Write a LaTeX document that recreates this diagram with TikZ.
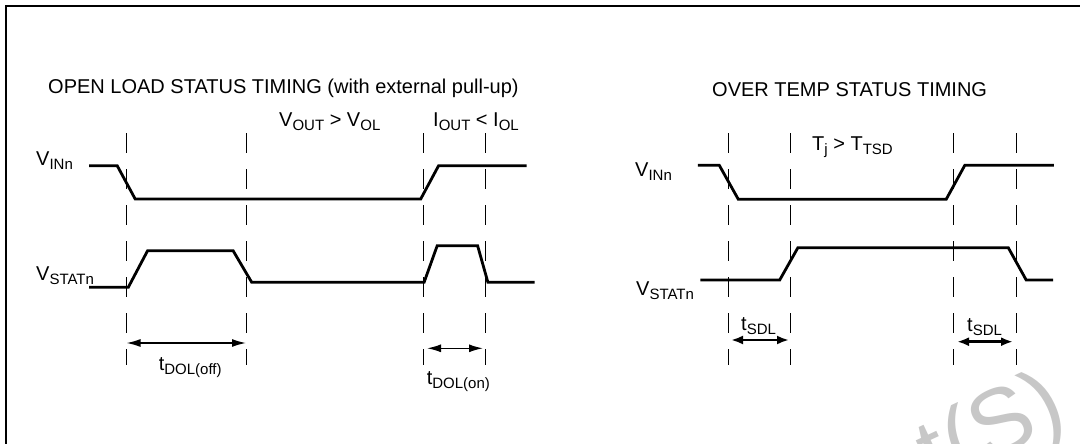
\documentclass[tikz,border=0pt]{standalone}
\usepackage{fontspec}
\setmainfont{Liberation Sans}
\usetikzlibrary{arrows.meta}
\newcommand{\mysub}[1]{\raisebox{-4pt}{\fontsize{15}{15}\selectfont #1}}
\begin{document}
\begin{tikzpicture}[x=1pt,y=-1pt,
  sig/.style={line width=2.8pt, line join=miter},
  guide/.style={line width=1pt, dash pattern=on 20pt off 16pt},
  lbl/.style={anchor=base west, inner sep=0pt, font=\fontsize{20}{24}\selectfont},
  dimthin/.style={line width=1.5pt, {Latex[length=14pt,width=8pt]}-{Latex[length=14pt,width=8pt]}},
  dimthick/.style={line width=2.5pt, {Latex[length=12pt,width=9pt]}-{Latex[length=12pt,width=9pt]}},
  frame/.style={line width=2.3pt},
  wmark/.style={text=black!22, inner sep=0pt, font=\fontsize{92}{92}\selectfont}
]
\useasboundingbox (0,0) rectangle (1080,444);
\clip (0,0) rectangle (1080,444);

% watermark
\node[wmark, rotate=25] (wm) at (993,433) {t(S)};

% frame
\coordinate (fb) at (6,460);
\coordinate (ftl) at (6,6);
\coordinate (fr) at (1090,6);
\draw[frame] (fb) -- (ftl) -- (fr);

% titles
\node[lbl] (titleL) at (48,94) {OPEN LOAD STATUS TIMING (with external pull-up)};
\node[lbl] (titleR) at (712,96) {OVER TEMP STATUS TIMING};

% ---------- left diagram ----------
\foreach \n/\x in {a/126,b/246.5,c/423.5,d/485.5}{
  \coordinate (L\n t) at (\x,133);
  \coordinate (L\n b) at (\x,365);
  \draw[guide] (L\n t) -- (L\n b);
}
\node[lbl] (vinL) at (36,165) {V\mysub{INn}};
\node[lbl] (vstL) at (36,280) {V\mysub{STATn}};
\node[lbl] (voutL) at (279,127) {V\mysub{OUT} > V\mysub{OL}};
\node[lbl] (ioutL) at (433,127) {I\mysub{OUT} < I\mysub{OL}};

\draw[sig] (89,165.7) -- (117.2,165.7) -- (135.2,199) -- (420.7,199) -- (438.6,165.7) -- (526.6,165.7);
\draw[sig] (89,287.3) -- (128.3,287.3) -- (147.6,250.7) -- (233.1,250.7) -- (251.7,282.3) -- (424.1,282.3)
  -- (437.2,245.7) -- (477.6,245.7) -- (487.9,282.3) -- (534.5,282.3);

\coordinate (offA) at (126.5,343);
\coordinate (offB) at (246,343);
\draw[dimthin] (offA) -- (offB);
\node[lbl] (tdoff) at (158.6,370) {t\mysub{DOL(off)}};

\coordinate (onA) at (427,348.3);
\coordinate (onB) at (483,348.3);
\draw[dimthin] (onA) -- (onB);
\node[lbl] (tdon) at (426.6,384) {t\mysub{DOL(on)}};

% ---------- right diagram ----------
\foreach \n/\x in {a/728.6,b/790.7,c/953.8,d/1016}{
  \coordinate (R\n t) at (\x,133);
  \coordinate (R\n b) at (\x,365);
  \draw[guide] (R\n t) -- (R\n b);
}
\node[lbl] (vinR) at (635,176) {V\mysub{INn}};
\node[lbl] (vstR) at (636,295) {V\mysub{STATn}};
\node[lbl] (tjR) at (812,150) {T\mysub{j} > T\mysub{TSD}};

\draw[sig] (697.9,165.3) -- (719.3,165.3) -- (738.3,199.3) -- (946.2,199.3) -- (964.8,165.3) -- (1053.8,165.3);
\draw[sig] (700.3,280) -- (779.7,280) -- (797.9,247.7) -- (1008.3,247.7) -- (1026.2,280) -- (1053.1,280);

\coordinate (s1A) at (731,340);
\coordinate (s1B) at (789,340);
\draw[dimthick] (s1A) -- (s1B);
\node[lbl] (ts1) at (741,330) {t\mysub{SDL}};

\coordinate (s2A) at (957,341.7);
\coordinate (s2B) at (1013,341.7);
\draw[dimthick] (s2A) -- (s2B);
\node[lbl] (ts2) at (967,331) {t\mysub{SDL}};
\end{tikzpicture}
\end{document}
